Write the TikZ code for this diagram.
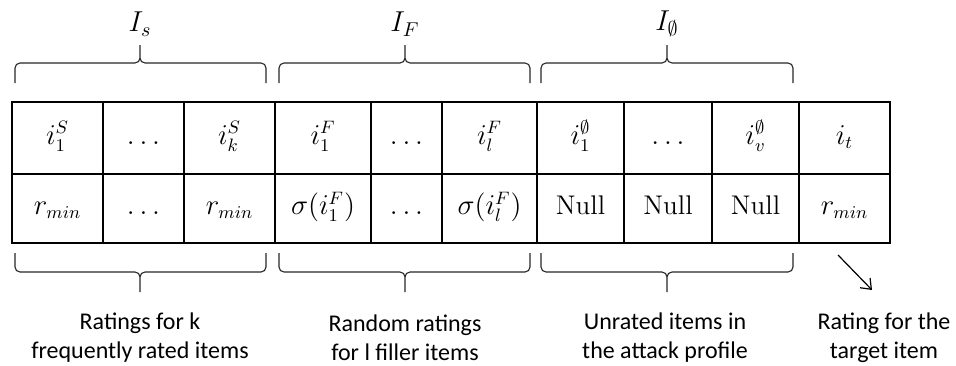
\documentclass[tikz,border=0pt]{standalone}
\usepackage{amsmath,amssymb}
\usepackage{fontspec}
\newfontfamily\lblfont{Carlito}
\usetikzlibrary{arrows,arrows.meta,positioning}

\begin{document}
\begin{tikzpicture}[x=0.5pt, y=-0.5pt]
        \tikzstyle{cell} = [rectangle, draw, line width=0.7pt, inner sep=0pt, outer sep=0pt, text height=2.3ex, text depth=0.9ex, font=\fontsize{13.5}{16}\selectfont]
        \tikzstyle{itemcell} = [cell, minimum height=36pt]
        \tikzstyle{ratecell} = [cell, minimum height=34.5pt]
        \tikzstyle{brc} = [line width=0.55pt, rounded corners=2.5pt, black!85]
        \tikzstyle{lbl} = [align=center, font=\lblfont\fontsize{12}{14.5}\selectfont]
        \tikzstyle{setlbl} = [font=\fontsize{14}{16}\selectfont]
        \tikzstyle{arrow} = [-{Straight Barb[length=4.5pt, width=7pt]}, line width=0.6pt]

        \useasboundingbox (0,0) rectangle (956,365);

        % item row
        \node (s1) [itemcell, minimum width=45.5pt, anchor=north west] at (12,102) {$i_1^S$};
        \node (s2) [itemcell, minimum width=40.5pt, right=0pt of s1] {$\ldots$};
        \node (sk) [itemcell, minimum width=45.5pt, right=0pt of s2] {$i_k^S$};
        \node (f1) [itemcell, minimum width=48pt, right=0pt of sk] {$i_1^F$};
        \node (f2) [itemcell, minimum width=35.5pt, right=0pt of f1] {$\ldots$};
        \node (fl) [itemcell, minimum width=47.5pt, right=0pt of f2] {$i_l^F$};
        \node (n1) [itemcell, minimum width=43.5pt, right=0pt of fl] {$i_1^{\emptyset}$};
        \node (n2) [itemcell, minimum width=44pt, right=0pt of n1] {$\ldots$};
        \node (nv) [itemcell, minimum width=43.5pt, right=0pt of n2] {$i_v^{\emptyset}$};
        \node (t) [itemcell, minimum width=45.5pt, right=0pt of nv] {$i_t$};

        % rating row
        \node (rs1) [ratecell, minimum width=45.5pt, below=0pt of s1] {$r_{min}$};
        \node (rs2) [ratecell, minimum width=40.5pt, below=0pt of s2] {$\ldots$};
        \node (rsk) [ratecell, minimum width=45.5pt, below=0pt of sk] {$r_{min}$};
        \node (rf1) [ratecell, minimum width=48pt, below=0pt of f1] {$\sigma(i_1^F)$};
        \node (rf2) [ratecell, minimum width=35.5pt, below=0pt of f2] {$\ldots$};
        \node (rfl) [ratecell, minimum width=47.5pt, below=0pt of fl] {$\sigma(i_l^F)$};
        \node (rn1) [ratecell, minimum width=43.5pt, below=0pt of n1] {Null};
        \node (rn2) [ratecell, minimum width=44pt, below=0pt of n2] {Null};
        \node (rnv) [ratecell, minimum width=43.5pt, below=0pt of nv] {Null};
        \node (rt) [ratecell, minimum width=45.5pt, below=0pt of t] {$r_{min}$};

        % braces above
        \draw[brc] (15,83) |- (140,63) -- (140,45) (266,83) |- (140,63) -- (140,45);
        \draw[brc] (279,83) |- (405,63) -- (405,45) (530,83) |- (405,63) -- (405,45);
        \draw[brc] (541,83) |- (667,63) -- (667,45) (793,83) |- (667,63) -- (667,45);
        \node (is) [setlbl] at (140,24) {$I_s$};
        \node (if) [setlbl] at (405,24) {$I_F$};
        \node (in) [setlbl] at (667,24) {$I_{\emptyset}$};

        % braces below
        \draw[brc] (15,253) |- (140,272) -- (140,292) (266,253) |- (140,272) -- (140,292);
        \draw[brc] (279,253) |- (405,272) -- (405,292) (530,253) |- (405,272) -- (405,292);
        \draw[brc] (541,253) |- (667,272) -- (667,292) (793,253) |- (667,272) -- (667,292);
        \node (lk) [lbl] at (140,338) {Ratings for k\\frequently rated items};
        \node (ll) [lbl] at (405,338) {Random ratings\\for l filler items};
        \node (lv) [lbl] at (665,338) {Unrated items in\\the attack profile};
        \node (lt) [lbl] at (884,338) {Rating for the\\target item};

        \coordinate (a1) at (838,255);
        \coordinate (a2) at (872,290);
        \draw[arrow] (a1) -- (a2);
    \end{tikzpicture}
\end{document}
